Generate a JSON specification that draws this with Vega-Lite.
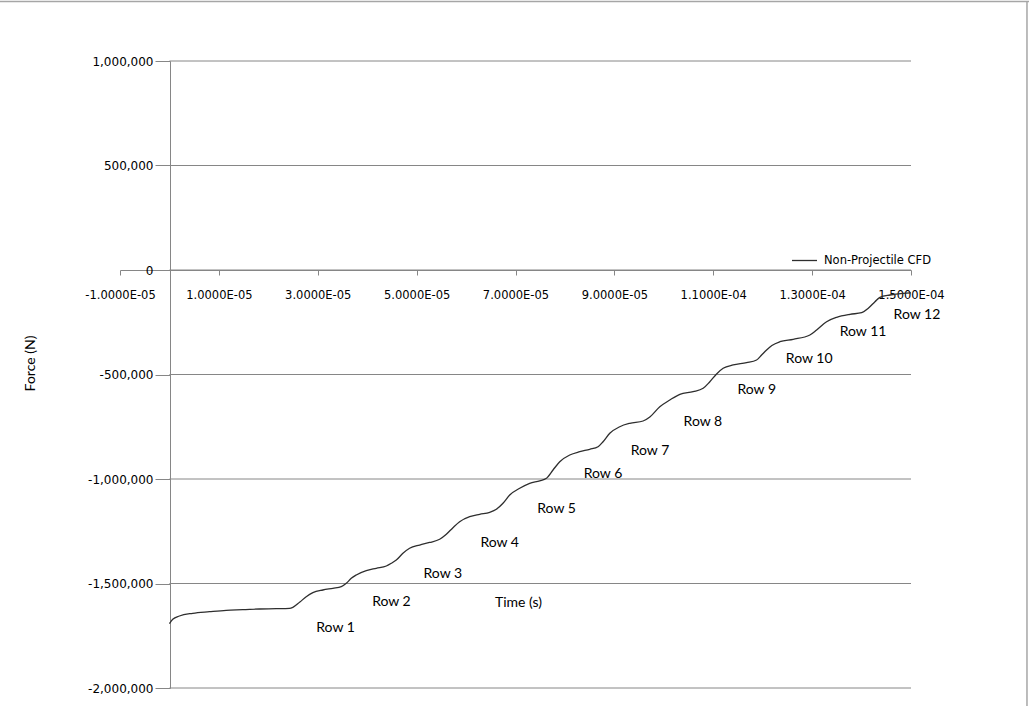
{
  "$schema": "https://vega.github.io/schema/vega-lite/v6.json",
  "width": 791,
  "height": 627,
  "autosize": {"type": "none"},
  "padding": {"left": 120, "top": 61, "right": 118, "bottom": 18},
  "background": "white",
  "config": {"view": {"stroke": null}, "font": "DejaVu Sans"},
  "datasets": {
    "force": [
      {"time": 0, "force": -1692000},
      {"time": 6.7e-7, "force": -1671300},
      {"time": 2.02e-6, "force": -1655500},
      {"time": 4.72e-6, "force": -1642600},
      {"time": 8.10e-6, "force": -1634900},
      {"time": 1.148e-5, "force": -1628200},
      {"time": 1.484e-5, "force": -1625400},
      {"time": 1.822e-5, "force": -1622000},
      {"time": 2.160e-5, "force": -1620600},
      {"time": 2.429e-5, "force": -1618700},
      {"time": 2.496e-5, "force": -1613900},
      {"time": 2.632e-5, "force": -1589900},
      {"time": 2.767e-5, "force": -1563200},
      {"time": 2.901e-5, "force": -1544000},
      {"time": 3.103e-5, "force": -1531100},
      {"time": 3.306e-5, "force": -1523000},
      {"time": 3.476e-5, "force": -1515300},
      {"time": 3.577e-5, "force": -1499100},
      {"time": 3.678e-5, "force": -1475100},
      {"time": 3.779e-5, "force": -1459300},
      {"time": 3.982e-5, "force": -1438700},
      {"time": 4.184e-5, "force": -1427300},
      {"time": 4.387e-5, "force": -1416300},
      {"time": 4.488e-5, "force": -1403400},
      {"time": 4.589e-5, "force": -1387600},
      {"time": 4.723e-5, "force": -1355500},
      {"time": 4.858e-5, "force": -1331600},
      {"time": 5.061e-5, "force": -1315800},
      {"time": 5.263e-5, "force": -1303800},
      {"time": 5.466e-5, "force": -1288500},
      {"time": 5.601e-5, "force": -1264600},
      {"time": 5.735e-5, "force": -1233000},
      {"time": 5.870e-5, "force": -1204300},
      {"time": 6.073e-5, "force": -1180400},
      {"time": 6.275e-5, "force": -1168900},
      {"time": 6.478e-5, "force": -1159300},
      {"time": 6.613e-5, "force": -1145000},
      {"time": 6.747e-5, "force": -1116300},
      {"time": 6.883e-5, "force": -1076600},
      {"time": 7.085e-5, "force": -1044500},
      {"time": 7.287e-5, "force": -1020600},
      {"time": 7.490e-5, "force": -1008600},
      {"time": 7.625e-5, "force": -996700},
      {"time": 7.759e-5, "force": -956900},
      {"time": 7.895e-5, "force": -917200},
      {"time": 8.097e-5, "force": -885200},
      {"time": 8.300e-5, "force": -869400},
      {"time": 8.502e-5, "force": -857900},
      {"time": 8.670e-5, "force": -845500},
      {"time": 8.771e-5, "force": -821500},
      {"time": 8.907e-5, "force": -781300},
      {"time": 9.109e-5, "force": -749800},
      {"time": 9.312e-5, "force": -733500},
      {"time": 9.581e-5, "force": -722500},
      {"time": 9.717e-5, "force": -703300},
      {"time": 9.919e-5, "force": -654100},
      {"time": 1.0121e-4, "force": -622000},
      {"time": 1.0324e-4, "force": -594800},
      {"time": 1.0593e-4, "force": -582300},
      {"time": 1.0796e-4, "force": -566100},
      {"time": 1.0931e-4, "force": -534500},
      {"time": 1.1067e-4, "force": -497600},
      {"time": 1.1200e-4, "force": -470300},
      {"time": 1.1403e-4, "force": -454500},
      {"time": 1.1674e-4, "force": -443500},
      {"time": 1.1876e-4, "force": -430600},
      {"time": 1.1978e-4, "force": -406700},
      {"time": 1.2079e-4, "force": -382800},
      {"time": 1.2186e-4, "force": -361200},
      {"time": 1.2348e-4, "force": -343100},
      {"time": 1.2617e-4, "force": -331600},
      {"time": 1.2955e-4, "force": -311000},
      {"time": 1.3091e-4, "force": -287100},
      {"time": 1.3293e-4, "force": -247400},
      {"time": 1.3496e-4, "force": -226300},
      {"time": 1.3765e-4, "force": -212000},
      {"time": 1.4002e-4, "force": -204300},
      {"time": 1.4136e-4, "force": -183300},
      {"time": 1.4271e-4, "force": -151700},
      {"time": 1.4372e-4, "force": -130600},
      {"time": 1.4575e-4, "force": -119600},
      {"time": 1.4844e-4, "force": -111500},
      {"time": 1.5000e-4, "force": -109100}
    ],
    "rows": [
      {"time": 3.36e-5, "force": -1712900, "label": "Row 1"},
      {"time": 4.49e-5, "force": -1588500, "label": "Row 2"},
      {"time": 5.53e-5, "force": -1454500, "label": "Row 3"},
      {"time": 6.68e-5, "force": -1304000, "label": "Row 4"},
      {"time": 7.83e-5, "force": -1143500, "label": "Row 5"},
      {"time": 8.77e-5, "force": -976100, "label": "Row 6"},
      {"time": 9.72e-5, "force": -866100, "label": "Row 7"},
      {"time": 1.079e-4, "force": -724900, "label": "Row 8"},
      {"time": 1.188e-4, "force": -574200, "label": "Row 9"},
      {"time": 1.294e-4, "force": -425800, "label": "Row 10"},
      {"time": 1.403e-4, "force": -296600, "label": "Row 11"},
      {"time": 1.512e-4, "force": -215300, "label": "Row 12"}
    ],
    "gridlines": [
      {"force": -2000000}, {"force": -1500000}, {"force": -1000000},
      {"force": -500000}, {"force": 0}, {"force": 500000}, {"force": 1000000}
    ]
  },
  "layer": [
    {
      "data": {"name": "gridlines"},
      "mark": {"type": "rule", "color": "#868686", "strokeWidth": 1},
      "encoding": {
        "x": {"datum": 0, "type": "quantitative"},
        "x2": {"datum": 0.00015},
        "y": {"field": "force", "type": "quantitative"}
      }
    },
    {
      "data": {"values": [{"edge": "top"}]},
      "mark": {"type": "rule", "color": "#a6a6a6", "strokeWidth": 1.5},
      "encoding": {
        "x": {"datum": -0.000035, "type": "quantitative"},
        "x2": {"datum": 0.000174},
        "y": {"datum": 1284689, "type": "quantitative"}
      }
    },
    {
      "data": {"values": [{"edge": "right"}]},
      "mark": {"type": "rule", "color": "#a6a6a6", "strokeWidth": 1.5},
      "encoding": {
        "x": {"datum": 0.00017346, "type": "quantitative"},
        "y": {"datum": 1284689, "type": "quantitative"},
        "y2": {"datum": -2200000}
      }
    },
    {
      "data": {"name": "force"},
      "mark": {"type": "line", "interpolate": "monotone", "strokeWidth": 1.3},
      "encoding": {
        "x": {
          "field": "time",
          "type": "quantitative",
          "scale": {"domain": [-0.00001, 0.00015], "nice": false, "zero": false},
          "axis": {
            "values": [-0.00001, 0.00001, 0.00003, 0.00005, 0.00007, 0.00009, 0.00011, 0.00013, 0.00015],
            "labelExpr": "replace(replace(upper(format(datum.value, '.4e')), 'E-', 'E-0'), '\u2212', '-')",
            "offset": -418,
            "grid": false,
            "domainColor": "#868686",
            "tickColor": "#868686",
            "tickSize": 5,
            "labelPadding": 14,
            "labelFont": "DejaVu Sans",
            "labelFontSize": 11.5,
            "labelColor": "#000000",
            "labelFlush": false,
            "labelOverlap": false,
            "labelBound": false,
            "title": "Time (s)",
            "titleX": 398,
            "titleY": 332,
            "titleAlign": "center",
            "titleBaseline": "middle",
            "titleFont": "Lato",
            "titleFontSize": 14,
            "titleFontWeight": "normal",
            "titleColor": "#000000"
          }
        },
        "y": {
          "field": "force",
          "type": "quantitative",
          "scale": {"domain": [-2000000, 1000000], "nice": false, "zero": false},
          "axis": {
            "values": [-2000000, -1500000, -1000000, -500000, 0, 500000, 1000000],
            "labelExpr": "replace(format(datum.value, ','), '\u2212', '-')",
            "offset": -50,
            "grid": false,
            "domainColor": "#868686",
            "tickColor": "#868686",
            "tickSize": 15,
            "labelPadding": 2,
            "labelFont": "DejaVu Sans",
            "labelFontSize": 12,
            "labelColor": "#000000",
            "labelFlush": false,
            "labelOverlap": false,
            "labelBound": false,
            "title": "Force (N)",
            "titleX": -140,
            "titleY": 302,
            "titleAngle": -90,
            "titleAlign": "center",
            "titleBaseline": "middle",
            "titleFont": "Lato",
            "titleFontSize": 14,
            "titleFontWeight": "normal",
            "titleColor": "#000000"
          }
        },
        "color": {
          "datum": "Non-Projectile CFD",
          "type": "nominal",
          "scale": {"range": ["#2e2e2e"]},
          "legend": {
            "orient": "none",
            "legendX": 671,
            "legendY": 186,
            "title": null,
            "padding": 0,
            "symbolType": "stroke",
            "symbolSize": 625,
            "symbolStrokeWidth": 1.3,
            "labelFont": "DejaVu Sans",
            "labelFontSize": 11.5,
            "labelColor": "#000000",
            "labelOffset": 6
          }
        }
      }
    },
    {
      "data": {"name": "rows"},
      "mark": {"type": "text", "font": "Lato", "fontSize": 14, "align": "center", "baseline": "middle", "color": "#000000"},
      "encoding": {
        "x": {"field": "time", "type": "quantitative"},
        "y": {"field": "force", "type": "quantitative"},
        "text": {"field": "label", "type": "nominal"}
      }
    }
  ]
}
